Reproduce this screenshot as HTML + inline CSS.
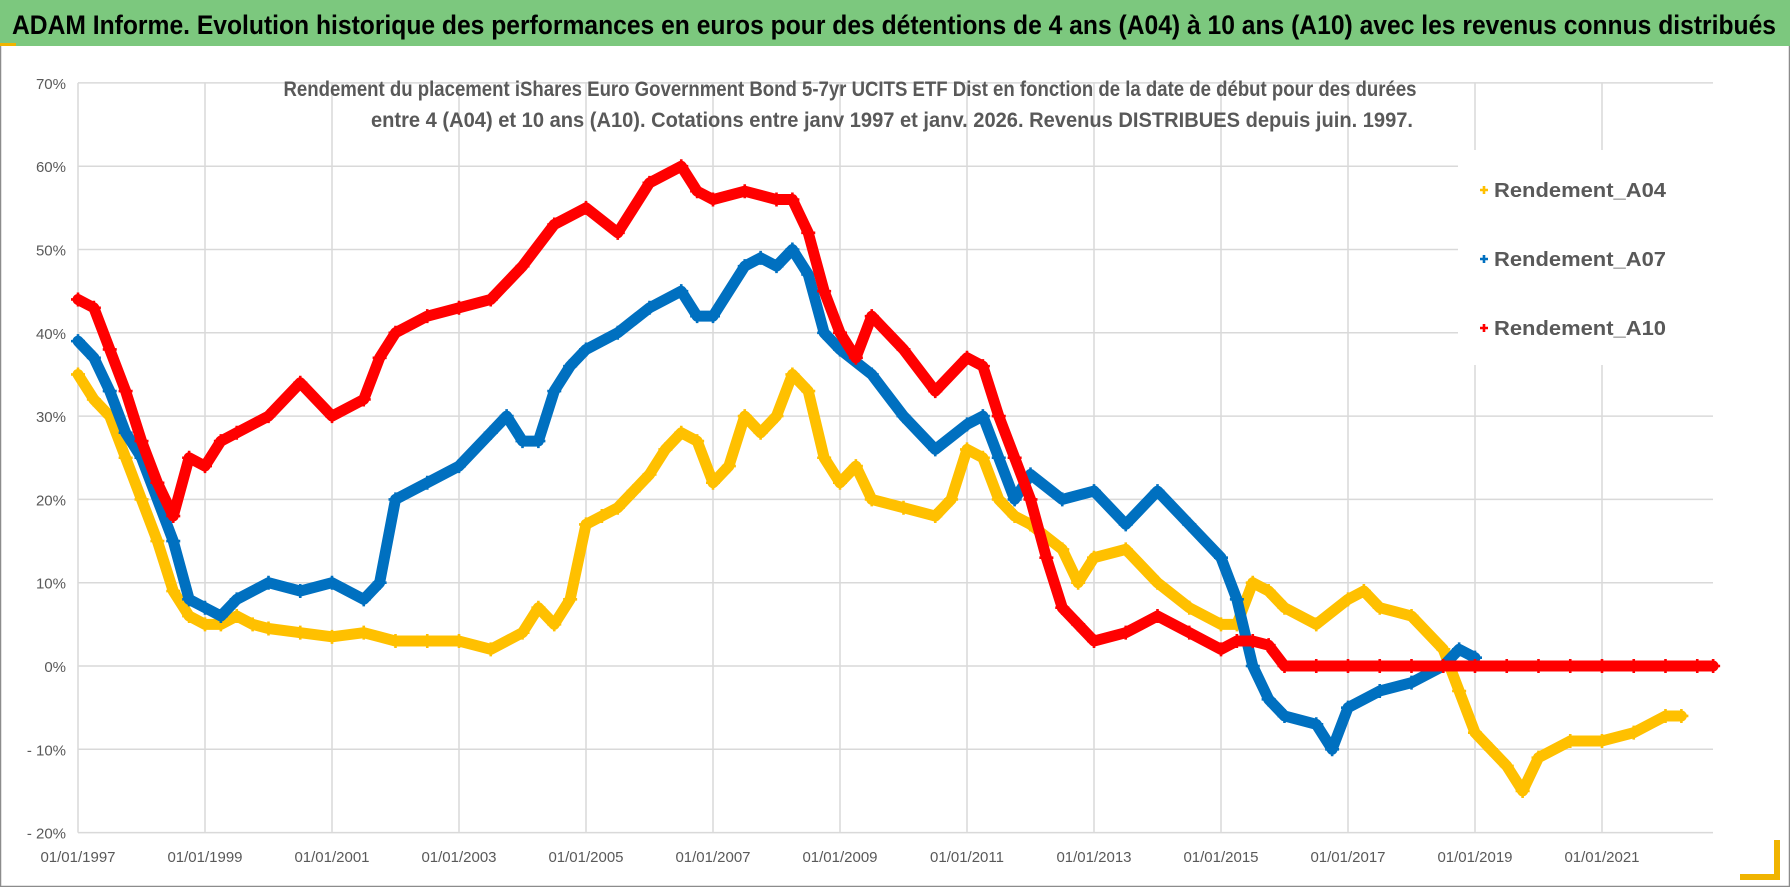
<!DOCTYPE html>
<html><head><meta charset="utf-8">
<style>
html,body{margin:0;padding:0;background:#fff;}
body{width:1790px;height:887px;overflow:hidden;font-family:"Liberation Sans",sans-serif;}
svg text{font-family:"Liberation Sans",sans-serif;}
</style></head>
<body>
<svg id="chart" width="1790" height="887" viewBox="0 0 1790 887" xmlns="http://www.w3.org/2000/svg">
  <rect x="0.5" y="0.5" width="1789" height="886" fill="#fff" stroke="#8c8c8c" stroke-width="1.5"/>
  <rect x="0" y="0" width="1790" height="46" fill="#7cc87e"/>
  <rect x="0" y="43" width="16" height="3" fill="#f0b400"/>
  <text x="12" y="34" font-size="27" font-weight="bold" fill="#000" textLength="1764" lengthAdjust="spacingAndGlyphs">ADAM Informe. Evolution historique des performances en euros pour des détentions de 4 ans (A04) à 10 ans (A10) avec les revenus connus distribués</text>
  <g id="grid"></g>
  <g id="series"></g>
  <g id="axes"></g>
  <text x="850" y="96" text-anchor="middle" font-size="21" font-weight="bold" fill="#595959" textLength="1133" lengthAdjust="spacingAndGlyphs">Rendement du placement iShares Euro Government Bond 5-7yr UCITS ETF Dist en fonction de la date de début pour des durées</text>
  <text x="892" y="127" text-anchor="middle" font-size="21" font-weight="bold" fill="#595959" textLength="1042" lengthAdjust="spacingAndGlyphs">entre 4 (A04) et 10 ans (A10).  Cotations entre janv 1997 et janv. 2026. Revenus DISTRIBUES depuis juin. 1997.</text>
  <g id="legend">
    <rect x="1458" y="150" width="284" height="215" fill="#fff"/>
  </g>
  <rect x="1774" y="840" width="6" height="40" fill="#f0b400"/>
  <rect x="1740" y="874" width="40" height="6" fill="#f0b400"/>
</svg>
<script>
// ---- data ----
const yTicks = [70,60,50,40,30,20,10,0,-10,-20];
const yTickLabels = ["70%","60%","50%","40%","30%","20%","10%","0%","- 10%","- 20%"];
const xTickYears = [1997,1999,2001,2003,2005,2007,2009,2011,2013,2015,2017,2019,2021];
const xTickLabels = ["01/01/1997","01/01/1999","01/01/2001","01/01/2003","01/01/2005","01/01/2007","01/01/2009","01/01/2011","01/01/2013","01/01/2015","01/01/2017","01/01/2019","01/01/2021"];
const seriesNames = ["Rendement_A04","Rendement_A07","Rendement_A10"];

const a04Dates = [1997,1997.25,1997.5,1997.75,1998,1998.25,1998.5,1998.75,1999,1999.25,1999.5,1999.75,2000,2000.5,2001,2001.5,2002,2002.5,2003,2003.5,2004,2004.25,2004.5,2004.75,2005,2005.25,2005.5,2005.75,2006,2006.25,2006.5,2006.75,2007,2007.25,2007.5,2007.75,2008,2008.25,2008.5,2008.75,2009,2009.25,2009.5,2010,2010.5,2010.75,2011,2011.25,2011.5,2011.75,2012,2012.5,2012.75,2013,2013.5,2014,2014.5,2015,2015.25,2015.5,2015.75,2016,2016.5,2017,2017.25,2017.5,2018,2018.5,2018.75,2019,2019.25,2019.5,2019.75,2020,2020.5,2021,2021.5,2022,2022.25];
const a04Values = [35,32,30,25,20,15,9,6,5,5,6,5,4.5,4,3.5,4,3,3,3,2,4,7,5,8,17,18,19,21,23,26,28,27,22,24,30,28,30,35,33,25,22,24,20,19,18,20,26,25,20,18,17,14,10,13,14,10,7,5,5,10,9,7,5,8,9,7,6,2,-3,-8,-10,-12,-15,-11,-9,-9,-8,-6,-6];

const a07Dates = [1997,1997.25,1997.5,1997.75,1998,1998.5,1998.75,1999,1999.25,1999.5,2000,2000.5,2001,2001.5,2001.75,2002,2002.5,2003,2003.5,2003.75,2004,2004.25,2004.5,2004.75,2005,2005.5,2006,2006.5,2006.75,2007,2007.5,2007.75,2008,2008.25,2008.5,2008.75,2009,2009.5,2010,2010.5,2011,2011.25,2011.5,2011.75,2012,2012.5,2013,2013.5,2014,2014.5,2015,2015.25,2015.5,2015.75,2016,2016.5,2016.75,2017,2017.5,2018,2018.5,2018.75,2019];
const a07Values = [39,37,33,28,25,15,8,7,6,8,10,9,10,8,10,20,22,24,28,30,27,27,33,36,38,40,43,45,42,42,48,49,48,50,47,40,38,35,30,26,29,30,25,20,23,20,21,17,21,17,13,8,0,-4,-6,-7,-10,-5,-3,-2,0,2,1];

const a10Dates = [1997,1997.25,1997.5,1997.75,1998,1998.25,1998.5,1998.75,1999,1999.25,1999.5,2000,2000.5,2001,2001.5,2001.75,2002,2002.5,2003,2003.5,2004,2004.5,2005,2005.5,2006,2006.5,2006.75,2007,2007.5,2008,2008.25,2008.5,2008.75,2009,2009.25,2009.5,2010,2010.5,2011,2011.25,2011.5,2011.75,2012,2012.25,2012.5,2012.75,2013,2013.5,2014,2014.5,2015,2015.25,2015.5,2015.75,2016,2016.5,2017,2017.5,2018,2018.5,2019,2019.5,2020,2020.5,2021,2021.5,2022,2022.5,2022.75];
const a10Values = [44,43,38,33,27,22,18,25,24,27,28,30,34,30,32,37,40,42,43,44,48,53,55,52,58,60,57,56,57,56,56,52,45,40,37,42,38,33,37,36,30,25,20,13,7,5,3,4,6,4,2,3,3,2.5,0,0,0,0,0,0,0,0,0,0,0,0,0,0,0];

// ---- scales ----
const X0=78, PX_PER_YEAR=63.5, Y0=666, PX_PER_PCT=8.33, PLOT_RIGHT=1713;
function xs(t){return X0+(t-1997)*PX_PER_YEAR;}
function ys(v){return Y0-v*PX_PER_PCT;}
const NS="http://www.w3.org/2000/svg";
function mk(tag,attrs,parent){const e=document.createElementNS(NS,tag);for(const k in attrs)e.setAttribute(k,attrs[k]);parent.appendChild(e);return e;}

const grid=document.getElementById('grid'), axes=document.getElementById('axes'), ser=document.getElementById('series'), leg=document.getElementById('legend');
yTicks.forEach((v,i)=>{
  const l=mk('line',{x1:X0,x2:PLOT_RIGHT,y1:ys(v),y2:ys(v),stroke:'#d9d9d9','stroke-width':1.5},grid);
  
  
  const t=mk('text',{x:66,y:ys(v)+6,'text-anchor':'end','font-size':15,fill:'#595959'},axes);
  t.textContent=yTickLabels[i];
  
  
});
xTickYears.forEach((yr,i)=>{
  const l=mk('line',{x1:xs(yr),x2:xs(yr),y1:ys(70),y2:ys(-20),stroke:'#d9d9d9','stroke-width':1.5},grid);
  
  
  const t=mk('text',{x:xs(yr),y:862,'text-anchor':'middle','font-size':15,fill:'#595959'},axes);
  t.textContent=xTickLabels[i];
  
  
});

const colors=['#FFC000','#0070C0','#FF0000'];
const allDates=[a04Dates,a07Dates,a10Dates], allVals=[a04Values,a07Values,a10Values];
const keys=['a04','a07','a10'];
function plus(g,cx,cy,c,s){
  return mk('path',{d:`M${cx-s} ${cy}H${cx+s}M${cx} ${cy-s}V${cy+s}`,stroke:c,'stroke-width':2.6,fill:'none'},g);
}
[0,1,2].forEach(si=>{
  const g=mk('g',{},ser);
  
  
  const d=allDates[si], v=allVals[si];
  const pts=d.map((t,i)=>xs(t)+','+ys(v[i])).join(' ');
  const pl=mk('polyline',{points:pts,fill:'none',stroke:colors[si],'stroke-width':11,'stroke-linejoin':'round','stroke-linecap':'round'},g);
  
  
  d.forEach((t,i)=>{
    const p=plus(g,xs(t),ys(v[i]),colors[si],7);
    
    
  });
});

seriesNames.forEach((n,i)=>{
  const yy=[190,259,328][i];
  const p=plus(leg,1484,yy,colors[i],4);
  
  
  const t=mk('text',{x:1494,y:yy+7,'font-size':20,'font-weight':'bold',fill:'#595959',textLength:172,lengthAdjust:'spacingAndGlyphs'},leg);
  t.textContent=n;
  
  
});
</script>
</body></html>
